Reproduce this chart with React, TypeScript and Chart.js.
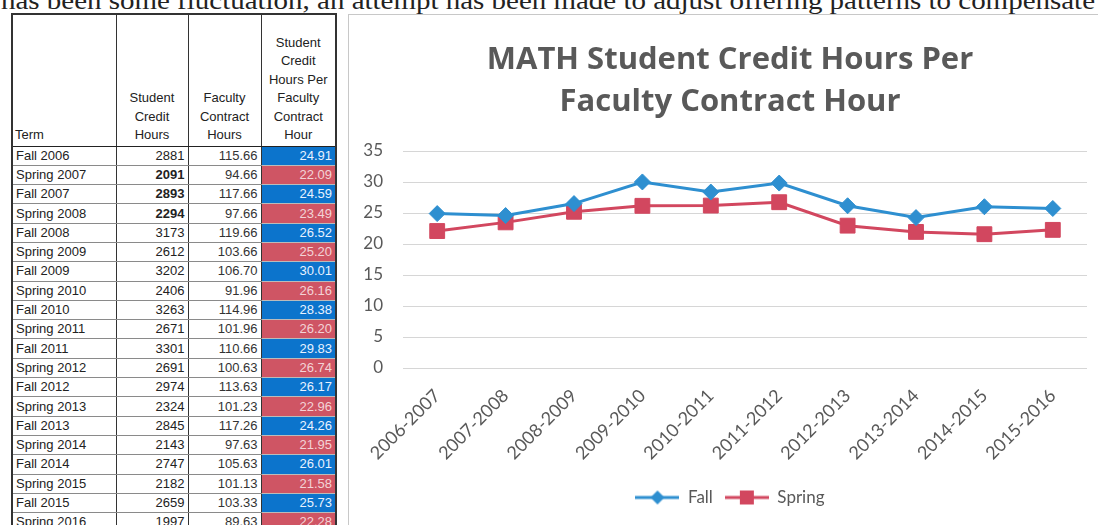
import React, { useEffect, useRef } from "react";
import { Chart, registerables } from "chart.js";

Chart.register(...registerables);

const introText =
  "has been some fluctuation, an attempt has been made to adjust offering patterns to compensate";

const terms = [
  "Fall 2006", "Spring 2007", "Fall 2007", "Spring 2008", "Fall 2008",
  "Spring 2009", "Fall 2009", "Spring 2010", "Fall 2010", "Spring 2011",
  "Fall 2011", "Spring 2012", "Fall 2012", "Spring 2013", "Fall 2013",
  "Spring 2014", "Fall 2014", "Spring 2015", "Fall 2015", "Spring 2016",
];
const studentCreditHours = [
  2881, 2091, 2893, 2294, 3173, 2612, 3202, 2406, 3263, 2671,
  3301, 2691, 2974, 2324, 2845, 2143, 2747, 2182, 2659, 1997,
];
const facultyContractHours = [
  "115.66", "94.66", "117.66", "97.66", "119.66", "103.66", "106.70", "91.96", "114.96", "101.96",
  "110.66", "100.63", "113.63", "101.23", "117.26", "97.63", "105.63", "101.13", "103.33", "89.63",
];
const creditPerContract = [
  "24.91", "22.09", "24.59", "23.49", "26.52", "25.20", "30.01", "26.16", "28.38", "26.20",
  "29.83", "26.74", "26.17", "22.96", "24.26", "21.95", "26.01", "21.58", "25.73", "22.28",
];

const years = [
  "2006-2007", "2007-2008", "2008-2009", "2009-2010", "2010-2011",
  "2011-2012", "2012-2013", "2013-2014", "2014-2015", "2015-2016",
];
const fallValues = [24.91, 24.59, 26.52, 30.01, 28.38, 29.83, 26.17, 24.26, 26.01, 25.73];
const springValues = [22.09, 23.49, 25.2, 26.16, 26.2, 26.74, 22.96, 21.95, 21.58, 22.28];

const chartTitle = ["MATH Student Credit Hours Per", "Faculty Contract Hour"];
const seriesNames = ["Fall", "Spring"];

const FALL = "#2e8fd0";
const SPRING = "#d2475f";
const TEXT = "#595959";

function legendIcon(color: string, kind: "diamond" | "square") {
  const c = document.createElement("canvas");
  c.width = 44;
  c.height = 18;
  const ctx = c.getContext("2d")!;
  ctx.strokeStyle = color;
  ctx.lineWidth = 3;
  ctx.beginPath();
  ctx.moveTo(0, 9);
  ctx.lineTo(44, 9);
  ctx.stroke();
  ctx.fillStyle = color;
  ctx.beginPath();
  if (kind === "diamond") {
    ctx.moveTo(22, 2);
    ctx.lineTo(29, 9);
    ctx.lineTo(22, 16);
    ctx.lineTo(15, 9);
    ctx.closePath();
  } else {
    ctx.rect(15, 2, 14, 14);
  }
  ctx.fill();
  return c;
}

function LineChart() {
  const ref = useRef<HTMLCanvasElement | null>(null);
  useEffect(() => {
    if (!ref.current) return;
    const icons = [legendIcon(FALL, "diamond"), legendIcon(SPRING, "square")];
    const chart = new Chart(ref.current, {
      type: "line",
      data: {
        labels: years,
        datasets: [
          {
            label: seriesNames[0],
            data: fallValues,
            borderColor: FALL,
            backgroundColor: FALL,
            borderWidth: 3,
            pointStyle: "rectRot",
            pointRadius: 8,
            pointBorderWidth: 1,
            tension: 0,
          },
          {
            label: seriesNames[1],
            data: springValues,
            borderColor: SPRING,
            backgroundColor: SPRING,
            borderWidth: 3,
            pointStyle: "rect",
            pointRadius: 10.5,
            pointBorderWidth: 1,
            tension: 0,
          },
        ],
      },
      options: {
        responsive: false,
        animation: false,
        events: [],
        layout: { padding: { left: 0, right: 0, top: 0, bottom: 9 } },
        plugins: {
          tooltip: { enabled: false },
          title: {
            display: true,
            text: chartTitle,
            color: TEXT,
            font: { family: "'Open Sans'", size: 31, weight: "bold", lineHeight: 1.355 },
            padding: { top: 23, bottom: 28 },
          },
          legend: {
            display: true,
            position: "bottom",
            labels: {
              color: TEXT,
              font: { family: "Lato", size: 17 },
              usePointStyle: true,
              pointStyleWidth: 44,
              boxHeight: 16,
              padding: 12,
              generateLabels: (ch: any) =>
                ch.data.datasets.map((ds: any, i: number) => ({
                  text: ds.label,
                  fillStyle: ds.borderColor,
                  strokeStyle: ds.borderColor,
                  lineWidth: 0,
                  pointStyle: icons[i],
                  fontColor: TEXT,
                  hidden: false,
                  datasetIndex: i,
                })),
            },
          },
        },
        scales: {
          x: {
            offset: true,
            grid: { display: false, drawTicks: false },
            border: { display: false },
            ticks: {
              color: TEXT,
              font: { family: "Lato", size: 18 },
              minRotation: 45,
              maxRotation: 45,
              padding: 17,
              autoSkip: false,
            },
            afterFit: (s: any) => {
              s.height = 109;
            },
          },
          y: {
            min: 0,
            max: 35,
            grid: { color: "#d6d6d6", lineWidth: 1, drawTicks: false },
            border: { display: false },
            ticks: {
              stepSize: 5,
              color: TEXT,
              font: { family: "Lato", size: 17 },
              padding: 20,
            },
            afterFit: (s: any) => {
              s.width = 53;
            },
          },
          yRight: {
            position: "right",
            display: true,
            min: 0,
            max: 35,
            grid: { display: false, drawTicks: false },
            border: { display: false },
            ticks: { display: false },
            afterFit: (s: any) => {
              s.width = 23;
            },
          },
        },
      },
    });
    return () => chart.destroy();
  }, []);
  return (
    <canvas
      ref={ref}
      width={760}
      height={509}
      style={{ position: "absolute", left: 350, top: 16, display: "block" }}
    />
  );
}

const cell: React.CSSProperties = {
  borderLeft: "1.5px solid #333",
  borderBottom: "1px solid #8a8a8a",
  padding: "0 3px",
  height: 19.3,
  lineHeight: "18px",
  whiteSpace: "nowrap",
  boxSizing: "border-box",
};

function DataTable() {
  const head: React.CSSProperties = {
    borderLeft: "1.5px solid #333",
    borderBottom: "1.5px solid #222",
    verticalAlign: "bottom",
    fontWeight: "normal",
    textAlign: "center",
    padding: "0 2px 1px",
    lineHeight: "18.4px",
  };
  return (
    <table
      style={{
        position: "absolute",
        left: 11,
        top: 13,
        width: 324,
        borderCollapse: "collapse",
        tableLayout: "fixed",
        border: "2px solid #333",
        fontFamily: "'Liberation Sans', Arial, sans-serif",
        fontSize: 13,
        color: "#222",
      }}
    >
      <colgroup>
        <col style={{ width: 104 }} />
        <col style={{ width: 72 }} />
        <col style={{ width: 73 }} />
        <col style={{ width: 75 }} />
      </colgroup>
      <thead>
        <tr style={{ height: 132 }}>
          <th style={{ ...head, textAlign: "left", borderLeft: "none" }}>Term</th>
          <th style={head}>
            Student
            <br />
            Credit
            <br />
            Hours
          </th>
          <th style={head}>
            Faculty
            <br />
            Contract
            <br />
            Hours
          </th>
          <th style={head}>
            Student
            <br />
            Credit
            <br />
            Hours Per
            <br />
            Faculty
            <br />
            Contract
            <br />
            Hour
          </th>
        </tr>
      </thead>
      <tbody>
        {terms.map((t, i) => {
          const fall = t.startsWith("Fall");
          return (
            <tr key={t} style={{ height: 19.3 }}>
              <td style={{ ...cell, borderLeft: "none" }}>{t}</td>
              <td
                style={{
                  ...cell,
                  textAlign: "right",
                  fontWeight: i >= 1 && i <= 3 ? "bold" : "normal",
                }}
              >
                {studentCreditHours[i]}
              </td>
              <td style={{ ...cell, textAlign: "right", color: "#333" }}>
                {facultyContractHours[i]}
              </td>
              <td
                style={{
                  ...cell,
                  textAlign: "right",
                  background: fall ? "#0c74cc" : "#cf5564",
                  color: fall ? "#e8f2ff" : "#f3d3d6",
                  borderBottom: "1px solid #bbb",
                }}
              >
                {creditPerContract[i]}
              </td>
            </tr>
          );
        })}
      </tbody>
    </table>
  );
}

export default function App() {
  return (
    <div
      style={{
        position: "fixed",
        left: 0,
        top: 0,
        width: 1098,
        height: 525,
        overflow: "hidden",
        background: "#fff",
      }}
    >
      <svg
        width={1098}
        height={20}
        style={{ position: "absolute", left: 0, top: 0 }}
      >
        <text
          x={1}
          y={9}
          textLength={1094}
          lengthAdjust="spacingAndGlyphs"
          style={{ fontFamily: "'Liberation Serif', 'DejaVu Serif', serif", fontSize: 26, fill: "#222" }}
        >
          {introText}
        </text>
      </svg>
      <DataTable />
      <div
        style={{
          position: "absolute",
          left: 348,
          top: 14,
          width: 760,
          height: 520,
          borderLeft: "1.5px solid #c8c8c8",
          borderTop: "1.5px solid #c8c8c8",
          boxSizing: "border-box",
        }}
      />
      <LineChart />
    </div>
  );
}
